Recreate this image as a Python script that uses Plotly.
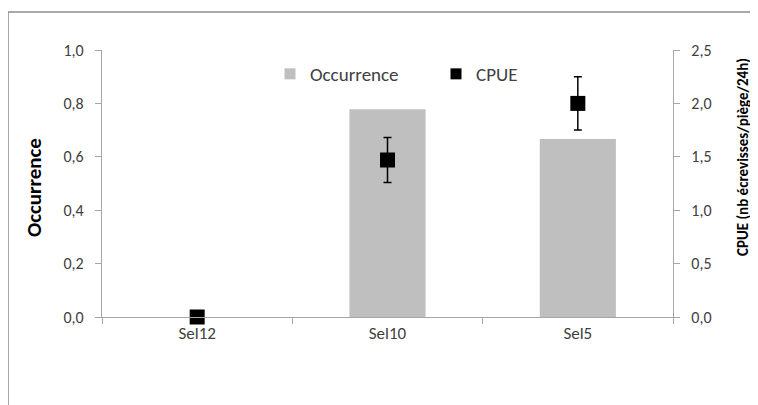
import plotly.graph_objects as go

sites = ['Sel12', 'Sel10', 'Sel5']
occurrence = [0.0, 0.778, 0.667]
cpue = [0.0, 1.47, 2.0]
cpue_err = [0.0, 0.21, 0.25]

FONT = 'Calibri, Carlito, Lato, sans-serif'
GRID = '#a6a6a6'
TXT = '#404040'

# the page body adds an 8px margin, so the figure is drawn 8px smaller
# and all reference pixel positions are shifted by that offset
OFF = 8
W, H = 758 - OFF, 405 - OFF
L, R, T, B = 102, 673, 50, 317     # plot area in reference pixels
pw, ph = R - L, B - T

def px(x):
    return (x - L) / pw

def py(y):
    return (B - y) / ph

fig = go.Figure()

fig.add_trace(go.Bar(
    x=sites, y=occurrence, name='Occurrence',
    marker=dict(color='#bfbfbf', line=dict(width=0)),
    showlegend=False
))

fig.add_trace(go.Scatter(
    x=sites, y=cpue, name='CPUE', yaxis='y2', mode='markers', cliponaxis=False,
    marker=dict(symbol='square', size=15, color='black'),
    error_y=dict(type='data', array=cpue_err, visible=True,
                 color='black', thickness=1.5, width=4),
    showlegend=False
))

# legend entries with small square symbols
fig.add_trace(go.Scatter(x=[None], y=[None], mode='markers', name='Occurrence',
                         marker=dict(symbol='square', size=11, color='#bfbfbf')))
fig.add_trace(go.Scatter(x=[None], y=[None], mode='markers', name='CPUE',
                         marker=dict(symbol='square', size=11, color='black')))

fig.update_layout(
    width=W, height=H,
    margin=dict(l=L - OFF, r=W - (R - OFF), t=T - OFF, b=H - (B - OFF), pad=0),
    paper_bgcolor='white', plot_bgcolor='white',
    separators=', ',
    font=dict(family=FONT, size=16, color=TXT),
    bargap=0.6,
    showlegend=True,
    legend=dict(orientation='h', x=px(270), y=py(74), xanchor='left', yanchor='middle',
                font=dict(size=19, color=TXT), bgcolor='rgba(0,0,0,0)',
                entrywidth=121, entrywidthmode='pixels', itemwidth=30),
    xaxis=dict(type='category', showline=True, linecolor=GRID, linewidth=1.3,
               ticks='outside', tickson='boundaries', ticklen=6, tickcolor=GRID,
               showgrid=False, zeroline=False, tickfont=dict(size=17, color=TXT)),
    yaxis=dict(range=[0, 1], dtick=0.2, tickformat='.1f', showline=True, linecolor=GRID,
               linewidth=1.3, ticks='outside', ticklen=6, tickcolor=GRID,
               showgrid=False, zeroline=False, ticklabelstandoff=8,
               tickfont=dict(size=16, color=TXT)),
    yaxis2=dict(range=[0, 2.5], dtick=0.5, tickformat='.1f', overlaying='y', side='right',
                showline=True, linecolor=GRID, linewidth=1.3, ticks='outside', ticklen=6,
                tickcolor=GRID, showgrid=False, zeroline=False, ticklabelstandoff=8,
                tickfont=dict(size=16, color=TXT)),
    annotations=[
        dict(text='<b>Occurrence</b>', x=px(34), y=py(188), xref='paper', yref='paper',
             textangle=-90, showarrow=False, xanchor='center', yanchor='middle',
             font=dict(size=21, color='black')),
        dict(text='<b>CPUE (nb écrevisses/piège/24h)</b>', x=px(743), y=py(157),
             xref='paper', yref='paper', textangle=-90, showarrow=False,
             xanchor='center', yanchor='middle', font=dict(size=15, color='black')),
    ],
    shapes=[
        dict(type='line', xref='paper', yref='paper', x0=px(8), x1=px(757), y0=py(12), y1=py(12),
             line=dict(color='#8c8c8c', width=1.5)),
        dict(type='line', xref='paper', yref='paper', x0=px(8), x1=px(8), y0=py(12), y1=py(405),
             line=dict(color='#8c8c8c', width=1.5)),
    ],
)

fig.write_html('out.html')
